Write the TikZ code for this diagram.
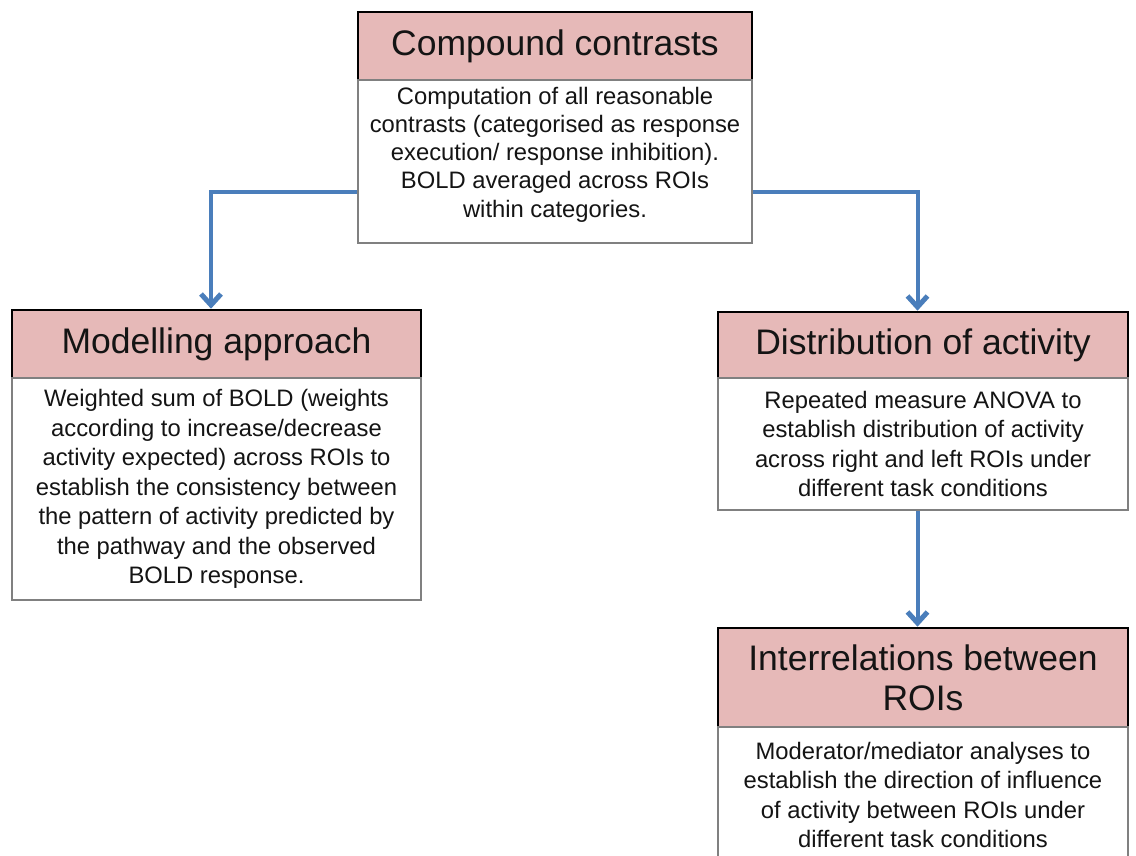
\documentclass[tikz,border=0pt]{standalone}
\usepackage{fontspec}
\setmainfont{Liberation Sans}
\usetikzlibrary{arrows.meta}
\definecolor{headfill}{HTML}{E6B9B8}
\definecolor{bodyline}{HTML}{808080}
\definecolor{flow}{HTML}{4A7EBB}
\definecolor{ink}{HTML}{141414}
\tikzset{
  headbox/.style={draw=black, line width=2.6pt, fill=headfill, text=ink,
    align=center, inner sep=0pt, font=\fontsize{35.5}{40}\selectfont},
  bodybox/.style={draw=bodyline, line width=2.4pt, fill=white, text=ink,
    align=center, inner sep=0pt, font=\fontsize{23.8}{29.5}\selectfont},
  flowarrow/.style={draw=flow, line width=4pt,
    -{Straight Barb[length=11pt, width=20pt, line width=5pt]}}
}
\begin{document}
\begin{tikzpicture}[x=1pt, y=-1pt]
\useasboundingbox (0,0) rectangle (1136,856);

% Top block (extra text depth lifts the lines a little)
\node[headbox, minimum width=394pt, minimum height=68pt] (h1) at (555,46) {Compound contrasts};
\node[bodybox, minimum width=394pt, minimum height=163pt, font=\fontsize{23.8}{28.3}\selectfont,
  text depth=19pt] (b1) at (555,161.5)
  {Computation of all reasonable\\contrasts (categorised as response\\execution/ response inhibition).\\BOLD averaged across ROIs\\within categories.};

% Left block
\node[headbox, minimum width=409pt, minimum height=68pt] (h2) at (216.5,344) {Modelling approach};
\node[bodybox, minimum width=409pt, minimum height=222pt] (b2) at (216.5,489)
  {Weighted sum of BOLD (weights\\according to increase/decrease\\activity expected) across ROIs to\\establish the consistency between\\the pattern of activity predicted by\\the pathway and the observed\\BOLD response.};

% Right column, first block
\node[headbox, minimum width=410pt, minimum height=66pt] (h3) at (923,345) {Distribution of activity};
\node[bodybox, minimum width=410pt, minimum height=132pt] (b3) at (923,444)
  {Repeated measure ANOVA to\\establish distribution of activity\\across right and left ROIs under\\different task conditions};

% Right column, second block (runs past the lower edge)
\node[headbox, minimum width=410pt, minimum height=99pt] (h4) at (923,677.5) {Interrelations between\\ROIs};
\node[bodybox, minimum width=410pt, minimum height=136pt] (b4) at (923,795)
  {Moderator/mediator analyses to\\establish the direction of influence\\of activity between ROIs under\\different task conditions};

% Connectors
\draw[flowarrow] ([yshift=-30.5pt]b1.west) -| ([xshift=-5.5pt]h2.north);
\draw[flowarrow] ([yshift=-30.5pt]b1.east) -| ([xshift=-5.5pt]h3.north);
\draw[flowarrow] ([xshift=-5.5pt]b3.south) -- ([xshift=-5.5pt]h4.north);
\end{tikzpicture}
\end{document}
